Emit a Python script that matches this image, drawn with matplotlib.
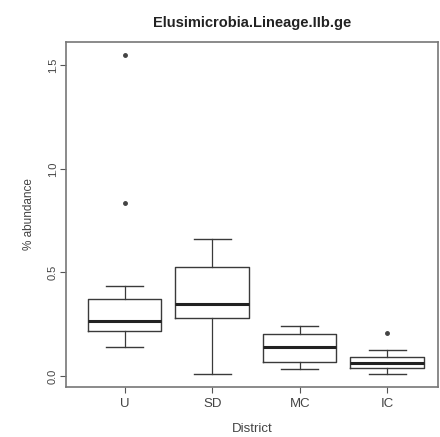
import matplotlib.pyplot as plt

# group labels and box statistics
districts = ["U", "SD", "MC", "IC"]
q1 = [0.219, 0.280, 0.068, 0.039]
med = [0.267, 0.346, 0.139, 0.061]
q3 = [0.372, 0.528, 0.203, 0.090]
whislo = [0.139, 0.010, 0.032, 0.010]
whishi = [0.436, 0.660, 0.243, 0.127]
fliers = [[1.55, 0.837], [], [], [0.209]]

yticks = [0.0, 0.5, 1.0, 1.5]

plt.rcParams["font.family"] = ["Liberation Sans", "DejaVu Sans"]

stats = []
for i, name in enumerate(districts):
    stats.append(
        {
            "label": name,
            "q1": q1[i],
            "med": med[i],
            "q3": q3[i],
            "whislo": whislo[i],
            "whishi": whishi[i],
            "fliers": fliers[i],
        }
    )

fig = plt.figure(figsize=(4.4, 4.37), dpi=100)
ax = fig.add_axes([0.15, 0.1144, 0.8455, 0.7895])

line_col = "#3a3a3a"
ax.bxp(
    stats,
    positions=[1, 2, 3, 4],
    widths=0.84,
    patch_artist=False,
    boxprops=dict(color=line_col, linewidth=1.0),
    medianprops=dict(color="#222222", linewidth=2.2),
    whiskerprops=dict(color=line_col, linewidth=0.9),
    capprops=dict(color=line_col, linewidth=1.0),
    capwidths=0.42,
    flierprops=dict(marker="o", markersize=2.5, markerfacecolor="#444444",
                    markeredgecolor="#444444"),
)

ax.set_xlim(0.33, 4.58)
ax.set_ylim(-0.053, 1.613)
ax.set_yticks(yticks)
ax.set_yticklabels([f"{v:.1f}" for v in yticks], rotation=90, va="center",
                   fontsize=8, color="#444444")
ax.set_xticks([1, 2, 3, 4])
ax.set_xticklabels(districts, fontsize=9.5, color="#444444")
ax.tick_params(axis="both", length=4, width=0.8, color="#555555", pad=4)
ax.tick_params(axis="y", pad=2)

for sp in ax.spines.values():
    sp.set_color("#777777")
    sp.set_linewidth(1.2)

ax.set_title("Elusimicrobia.Lineage.IIb.ge", fontsize=10.5, fontweight="bold",
             pad=11, color="#222222")
ax.set_xlabel("District", fontsize=9.5, color="#444444", labelpad=9)
ax.set_ylabel("% abundance", fontsize=8.5, color="#444444", labelpad=9)

fig.savefig("out.png", dpi=100)
